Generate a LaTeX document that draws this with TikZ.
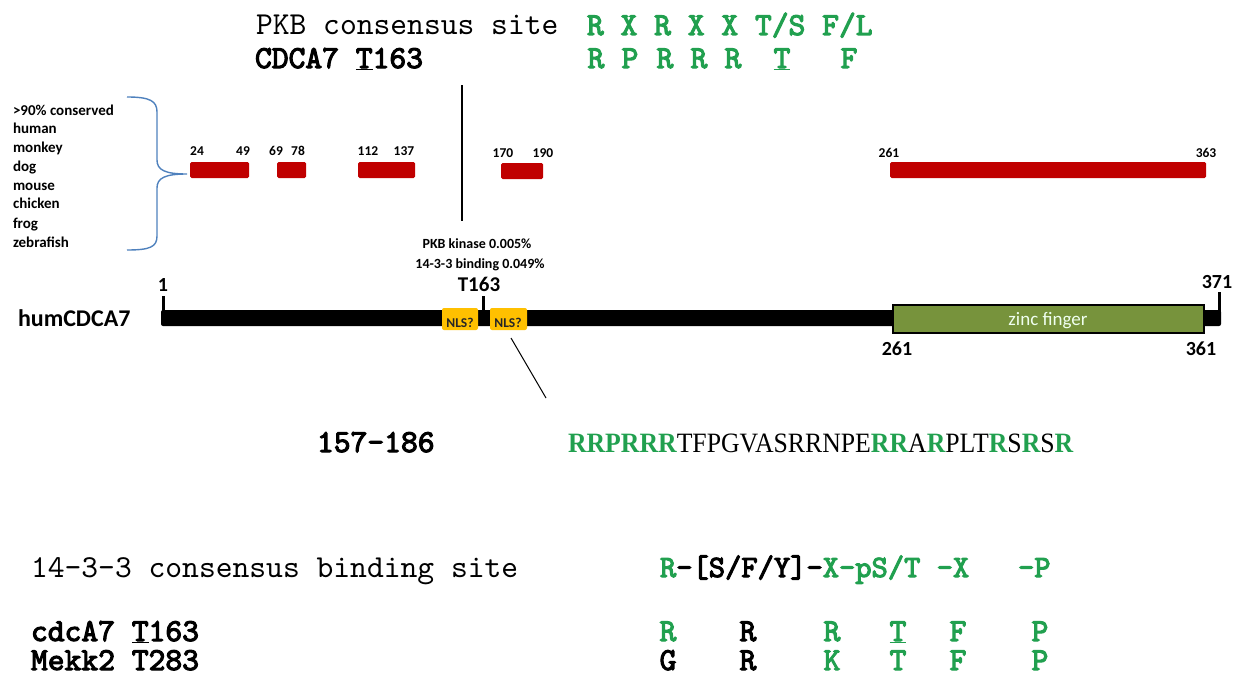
\documentclass[tikz,border=0pt]{standalone}
\usepackage{fontspec}
\setmainfont{Liberation Serif}
\newfontfamily\calib{Carlito}
\newfontfamily\cour{lmmono10-regular}[Extension=.otf]
\newfontfamily\courb{lmmono10-regular}[Extension=.otf,FakeBold=3.4]
\definecolor{seqgreen}{RGB}{33,160,79}
\definecolor{consred}{RGB}{192,0,0}
\definecolor{nlsyellow}{RGB}{255,192,0}
\definecolor{zincolive}{RGB}{119,147,60}
\definecolor{braceblue}{RGB}{79,129,189}
\newcommand\fsz[1]{\fontsize{#1}{#1}\selectfont}
\newcommand\grn[1]{\textcolor{seqgreen}{\bfseries #1}}

\begin{document}
\begin{tikzpicture}[x=1pt,y=-1pt,
  every node/.style={inner sep=0pt,outer sep=0pt},
  monoreg/.style={font=\cour\fsz{32},anchor=base west},
  monobold/.style={font=\courb\fsz{32},anchor=base west},
  resid/.style={font=\courb\fsz{32},anchor=base,text=seqgreen},
  residblk/.style={font=\courb\fsz{32},anchor=base,text=black},
  species/.style={font=\calib\bfseries\fsz{15},anchor=base west},
  poslabel/.style={font=\calib\bfseries\fsz{13.5},anchor=base},
  biglabel/.style={font=\calib\bfseries\fsz{20},anchor=base},
  redbar/.style={fill=consred,rounded corners=1.5pt},
  tick/.style={line width=3pt},
  thinline/.style={line width=1.2pt}]
\useasboundingbox (0,0) rectangle (1236,677);

% PKB consensus motif
\node[monoreg] (pkbtitle) at (256,35) {PKB consensus site};
\node[monobold,text=seqgreen] (pkbmotif) at (587,35) {R X R X X T/S F/L};
\node[monobold] (cdcatitle) at (255,68) {CDCA7 \underline{T}163};
\node[resid] (p1) at (596,68) {R};
\node[resid] (p2) at (630,68) {P};
\node[resid] (p3) at (665,68) {R};
\node[resid] (p4) at (699,68) {R};
\node[resid] (p5) at (733,68) {R};
\node[resid] (p6) at (782,68) {\underline{T}};
\node[resid] (p7) at (849,68) {F};

% species list and brace
\node[species] (s0) at (13,115) {>90\% conserved};
\node[species] (s1) at (13,133) {human};
\node[species] (s2) at (13,152) {monkey};
\node[species] (s3) at (13,171) {dog};
\node[species] (s4) at (13,190) {mouse};
\node[species] (s5) at (13,208) {chicken};
\node[species] (s6) at (13,228) {frog};
\node[species] (s7) at (13,247) {zebrafish};
\coordinate (bt) at (127,97);
\coordinate (btip) at (187,174);
\coordinate (bb) at (127,250);
\draw[braceblue,line width=1.4pt]
  (bt) .. controls (150,97) and (157,101) .. (157,112) -- (157,160)
  .. controls (157,170) and (165,174) .. (btip)
  .. controls (165,174) and (157,178) .. (157,188) -- (157,236)
  .. controls (157,247) and (150,250) .. (bb);

% conserved regions
\fill[redbar] (190,162) rectangle (249,178);
\fill[redbar] (277,162) rectangle (306,178);
\fill[redbar] (358,162) rectangle (415,178);
\fill[redbar] (501,163) rectangle (543,179);
\fill[redbar] (890,162) rectangle (1206,178);
\node[poslabel] (l24)  at (197,155) {24};
\node[poslabel] (l49)  at (243,155) {49};
\node[poslabel] (l69)  at (276,155) {69};
\node[poslabel] (l78)  at (298,155) {78};
\node[poslabel] (l112) at (368,155) {112};
\node[poslabel] (l137) at (404,155) {137};
\node[poslabel] (l170) at (503,157) {170};
\node[poslabel] (l190) at (543,157) {190};
\node[poslabel] (l261) at (889,157) {261};
\node[poslabel] (l363) at (1206,157) {363};

% pointer from the motif to T163
\coordinate (vtop) at (462,85);
\coordinate (vbot) at (462,221);
\draw[thinline] (vtop) -- (vbot);

\node[font=\calib\bfseries\fsz{14},anchor=base] (pkbk) at (477,248) {PKB kinase 0.005\%};
\node[font=\calib\bfseries\fsz{14},anchor=base] (bind) at (480,268) {14-3-3 binding 0.049\%};
\node[font=\calib\bfseries\fsz{21},anchor=base] (t163) at (479,291) {T163};

% protein bar
\node[font=\calib\bfseries\fsz{24},anchor=base west] (hum) at (18,326) {humCDCA7};
\fill[rounded corners=2pt] (161,310) rectangle (1221,326);
\node[biglabel] (n1) at (163,291) {1};
\coordinate (k1a) at (163,296); \coordinate (k1b) at (163,311);
\draw[tick] (k1a) -- (k1b);
\coordinate (kta) at (483,296); \coordinate (ktb) at (483,311);
\draw[tick] (kta) -- (ktb);
\node[biglabel] (n371) at (1217,288) {371};
\coordinate (kea) at (1219,292); \coordinate (keb) at (1219,312);
\draw[tick] (kea) -- (keb);

\node[fill=nlsyellow,rounded corners=2pt,minimum width=36pt,minimum height=22pt,anchor=north west] (nls1) at (442,308) {};
\node[fill=nlsyellow,rounded corners=2pt,minimum width=37pt,minimum height=22pt,anchor=north west] (nls2) at (490,308) {};
\node[font=\calib\bfseries\fsz{13.5},anchor=base,text=black!85] (nlst1) at (460,327) {NLS?};
\node[font=\calib\bfseries\fsz{13.5},anchor=base,text=black!85] (nlst2) at (508,327) {NLS?};

\node[draw=black,line width=2.5pt,fill=zincolive,minimum width=311pt,minimum height=28pt,anchor=north west] (zinc) at (893,305) {};
\node[font=\calib\fsz{19},anchor=base,text=white!94!green] (zinct) at (1048,325) {zinc finger};
\node[biglabel] (n261) at (897,355) {261};
\node[biglabel] (n361) at (1201,355) {361};

% zoom line to the sequence
\coordinate (za) at (511,338);
\coordinate (zb) at (546,398);
\draw[line width=1pt] (za) -- (zb);

\node[monobold] (range) at (317,452) {157-186};
\node[font=\fsz{28},anchor=base west] (seq) at (568,452)
  {\scalebox{0.92}[1]{\grn{RRPRRR}TFPGVASRRNPE\grn{RR}A\grn{R}PLT\grn{R}S\grn{R}S\grn{R}}};

% 14-3-3 motif
\node[monoreg] (bt14) at (31,577) {14-3-3 consensus binding site};
\node[monobold,font=\courb\fsz{31}] (motif) at (660,577)
  {\textcolor{seqgreen}{R}-[S/F/Y]-\textcolor{seqgreen}{X-pS/T\hphantom{X}-X\hphantom{XXX}-P}};

\node[monobold] (rowa) at (31,641) {cdcA7 \underline{T}163};
\node[resid]    (a1) at (668,641) {R};
\node[residblk] (a2) at (748,641) {R};
\node[resid]    (a3) at (832,641) {R};
\node[resid]    (a4) at (898,641) {\underline{T}};
\node[resid]    (a5) at (958,641) {F};
\node[resid]    (a6) at (1040,641) {P};

\node[monobold] (rowb) at (31,670) {Mekk2 T283};
\node[residblk] (b1) at (668,670) {G};
\node[residblk] (b2) at (748,670) {R};
\node[resid]    (b3) at (832,670) {K};
\node[resid]    (b4) at (898,670) {T};
\node[resid]    (b5) at (958,670) {F};
\node[resid]    (b6) at (1040,670) {P};
\end{tikzpicture}
\end{document}
